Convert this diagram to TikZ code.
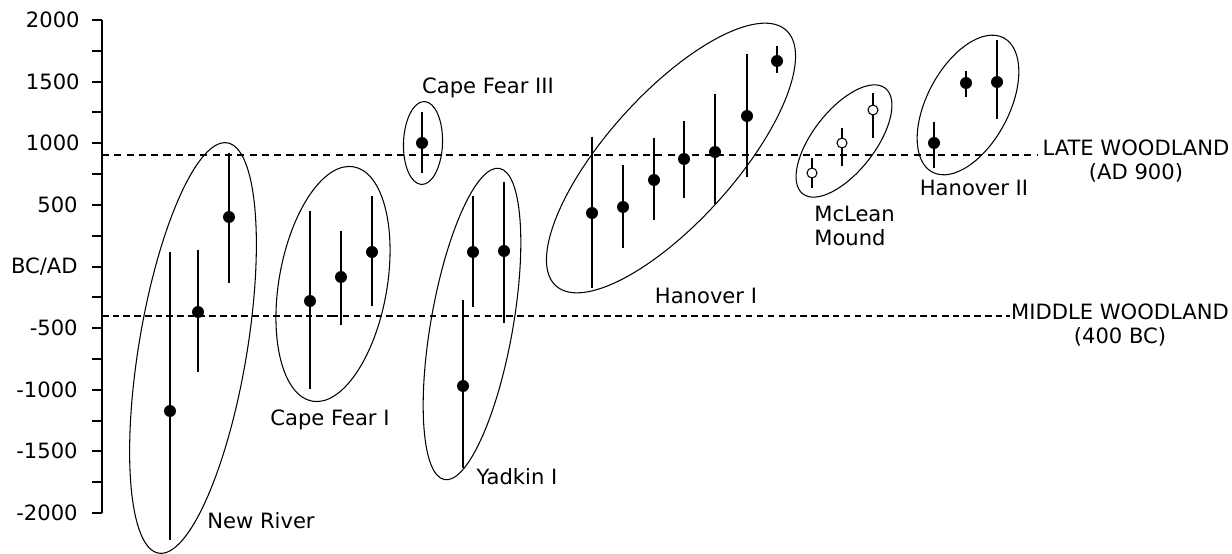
\documentclass[tikz,border=0pt]{standalone}
\usepackage{fontspec}
\setmainfont{DejaVu Sans}
\usepackage{tikz}
\usetikzlibrary{positioning}
\tikzset{
  whisker/.style={black,line width=0.8pt},
  dot/.style={black,fill=black},
  odot/.style={black,fill=white,line width=0.6pt},
  group/.style={black,line width=0.6pt},
  lbl/.style={font=\fontsize{12}{13.6}\selectfont,inner sep=0pt},
  latewl/.style={black,line width=0.6pt,dash pattern=on 4pt off 3pt},
  midwl/.style={black,line width=0.6pt,dash pattern=on 3.6pt off 2.6pt},
  midwlbold/.style={black,line width=1.2pt,dash pattern=on 3.8pt off 2.3pt}
}

\begin{document}
\begin{tikzpicture}[x=0.02cm,y=-0.02cm]
\useasboundingbox (0,0) rectangle (1232,554);
% axis
\draw[whisker] (102,20) -- (102,513);
\draw[whisker] (92,20) -- (102,20);
\draw[whisker] (92,51) -- (102,51);
\draw[whisker] (92,82) -- (102,82);
\draw[whisker] (92,112) -- (102,112);
\draw[whisker] (92,143) -- (102,143);
\draw[whisker] (92,174) -- (102,174);
\draw[whisker] (92,205) -- (102,205);
\draw[whisker] (92,236) -- (102,236);
\draw[whisker] (92,267) -- (102,267);
\draw[whisker] (92,297) -- (102,297);
\draw[whisker] (92,328) -- (102,328);
\draw[whisker] (92,359) -- (102,359);
\draw[whisker] (92,390) -- (102,390);
\draw[whisker] (92,421) -- (102,421);
\draw[whisker] (92,451) -- (102,451);
\draw[whisker] (92,482) -- (102,482);
\draw[whisker] (92,513) -- (102,513);
\node[lbl,anchor=east] (t2000) at (80,20) {2000};
\node[lbl,anchor=east] (t1500) at (80,82) {1500};
\node[lbl,anchor=east] (t1000) at (80,143) {1000};
\node[lbl,anchor=east] (t500) at (78,205) {500};
\node[lbl,anchor=east] (t0) at (78,267) {BC/AD};
\node[lbl,anchor=east] (tm500) at (78,328) {-500};
\node[lbl,anchor=east] (tm1000) at (78,390) {-1000};
\node[lbl,anchor=east] (tm1500) at (78,451) {-1500};
\node[lbl,anchor=east] (tm2000) at (78,513) {-2000};
% woodland lines
\draw[latewl] (102,155) -- (1038,155);
\draw[midwlbold] (102,316) -- (332,316);
\draw[midwl] (332,316) -- (942,316);
\draw[midwlbold] (942,316) -- (1010,316);
\node[lbl,align=center] (late) at (1136,161) {LATE WOODLAND\\(AD 900)};
\node[lbl,align=center] (middle) at (1120,325) {MIDDLE WOODLAND\\(400 BC)};
% New River
\draw[whisker] (170,252) -- (170,540);
\fill[dot] (170,411) circle (6);
\draw[whisker] (198,250) -- (198,372);
\fill[dot] (198,312) circle (6);
\draw[whisker] (229,153) -- (229,283);
\fill[dot] (229,217) circle (6);
\draw[group,rotate around={80.5:(193,348)}] (193,348) ellipse [x radius=208,y radius=54];
\node[lbl] (newriver) at (261,521) {New River};
% Cape Fear I
\draw[whisker] (310,211) -- (310,389);
\fill[dot] (310,301) circle (6);
\draw[whisker] (341,231) -- (341,325);
\fill[dot] (341,277) circle (6);
\draw[whisker] (372,196) -- (372,306);
\fill[dot] (372,252) circle (6);
\draw[group,rotate around={80:(333,284)}] (333,284) ellipse [x radius=119,y radius=54];
\node[lbl] (capefear1) at (330,420) {Cape Fear I};
% Cape Fear III
\draw[whisker] (422,112) -- (422,173);
\fill[dot] (422,143) circle (6);
\draw[group,rotate around={88:(423,143)}] (423,143) ellipse [x radius=41.5,y radius=19.5];
\node[lbl] (capefear3) at (488,88) {Cape Fear III};
% Yadkin I
\draw[whisker] (463,300) -- (463,468);
\fill[dot] (463,386) circle (6);
\draw[whisker] (473,196) -- (473,307);
\fill[dot] (473,252) circle (6);
\draw[whisker] (504,182) -- (504,323);
\fill[dot] (504,251) circle (6);
\draw[group,rotate around={80:(472,324)}] (472,324) ellipse [x radius=158,y radius=41];
\node[lbl] (yadkin) at (517,477) {Yadkin I};
% Hanover I
\draw[whisker] (592,137) -- (592,288);
\fill[dot] (592,213) circle (6);
\draw[whisker] (623,165) -- (623,248);
\fill[dot] (623,207) circle (6);
\draw[whisker] (654,138) -- (654,220);
\fill[dot] (654,180) circle (6);
\draw[whisker] (684,121) -- (684,198);
\fill[dot] (684,159) circle (6);
\draw[whisker] (715,94) -- (715,204);
\fill[dot] (715,152) circle (6);
\draw[whisker] (747,54) -- (747,177);
\fill[dot] (747,116) circle (6);
\draw[whisker] (777,46) -- (777,73);
\fill[dot] (777,61) circle (6);
\draw[group,rotate around={48:(671,158)}] (671,158) ellipse [x radius=172,y radius=64];
\node[lbl] (hanover1) at (706,296) {Hanover I};
% McLean Mound
\draw[whisker] (812,158) -- (812,188);
\draw[odot] (812,173) circle (5);
\draw[whisker] (842,128) -- (842,166);
\draw[odot] (842,143) circle (5);
\draw[whisker] (873,93) -- (873,138);
\draw[odot] (873,110) circle (5);
\draw[group,rotate around={52:(844,141)}] (844,141) ellipse [x radius=67,y radius=31];
\node[lbl,anchor=west,align=left] (mclean) at (814,226) {McLean\\Mound};
% Hanover II
\draw[whisker] (934,122) -- (934,168);
\fill[dot] (934,143) circle (6);
\draw[whisker] (966,71) -- (966,97);
\fill[dot] (966,83) circle (6);
\draw[whisker] (997,40) -- (997,119);
\fill[dot] (997,82) circle (6);
\draw[group,rotate around={62:(968,105)}] (968,105) ellipse [x radius=76,y radius=41];
\node[lbl] (hanover2) at (974,188) {Hanover II};
\end{tikzpicture}
\end{document}
